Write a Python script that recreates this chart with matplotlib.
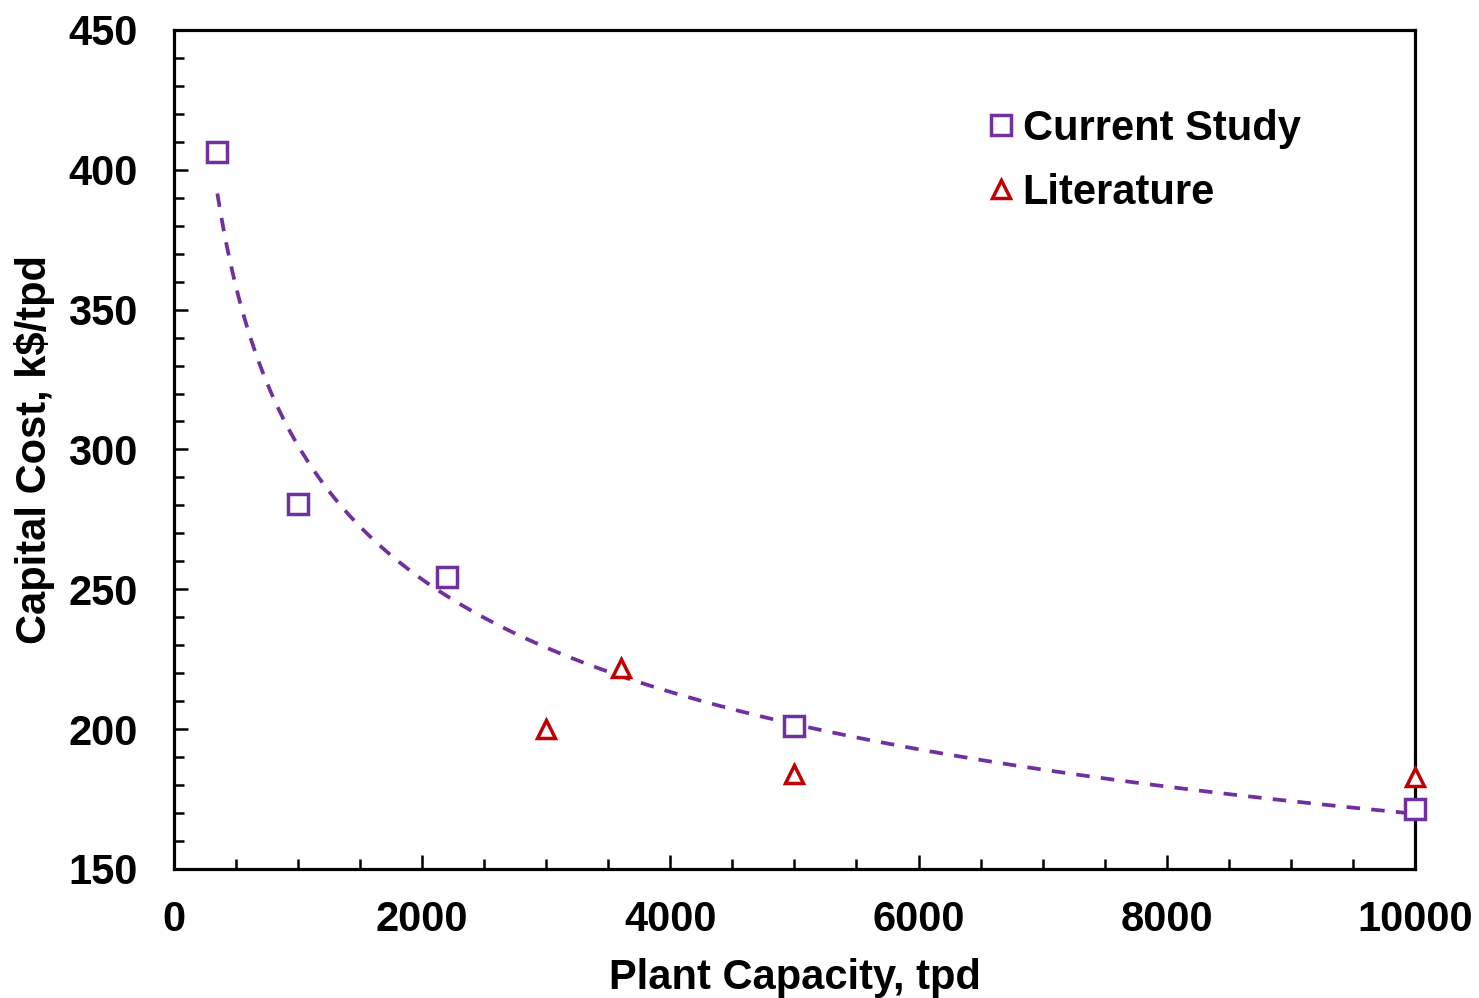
import numpy as np
import matplotlib
matplotlib.use("Agg")
import matplotlib.pyplot as plt
from matplotlib.ticker import MultipleLocator

plt.rcParams['font.family'] = ['Liberation Sans', 'DejaVu Sans']
plt.rcParams['font.weight'] = 'bold'

# Data
study_x = [350, 1000, 2200, 5000, 10000]
study_y = [406.5, 280.5, 254.5, 201, 171.5]
lit_x = [3000, 3600, 5000, 10000]
lit_y = [200, 222, 184, 183]

purple = '#7030A0'
red = '#C00000'

fig = plt.figure(figsize=(14.79, 9.98), dpi=100)
ax = fig.add_axes([0.1176, 0.1293, 0.8391, 0.8407])

# Power trendline fitted to the current study points
b, loga = np.polyfit(np.log(study_x), np.log(study_y), 1)
xs = np.linspace(min(study_x), max(study_x), 400)
ax.plot(xs, np.exp(loga) * xs ** b, linestyle=(0, (3.6, 3.0)), color=purple, lw=2.7, zorder=2)

ax.plot(study_x, study_y, linestyle='none', marker='s', markersize=14.5, mfc='white',
        mec=purple, mew=2.5, label='Current Study', zorder=4, clip_on=False)
ax.plot(lit_x, lit_y, linestyle='none', marker='^', markersize=13, mfc='white',
        mec=red, mew=2.5, label='Literature', zorder=3, clip_on=False)

ax.set_xlim(0, 10000)
ax.set_ylim(150, 450)
ax.xaxis.set_major_locator(MultipleLocator(2000))
ax.xaxis.set_minor_locator(MultipleLocator(500))
ax.yaxis.set_major_locator(MultipleLocator(50))
ax.yaxis.set_minor_locator(MultipleLocator(10))
ax.tick_params(which='both', direction='in', top=False, right=False, labelsize=30, width=1.8)
ax.tick_params(axis='x', which='both', pad=22)
ax.tick_params(axis='y', which='both', pad=26)
ax.tick_params(which='major', length=10)
ax.tick_params(which='minor', length=7)
for lab in ax.get_xticklabels() + ax.get_yticklabels():
    lab.set_fontweight('bold')
for s in ax.spines.values():
    s.set_linewidth(2.3)

ax.set_xlabel('Plant Capacity, tpd', fontsize=30, fontweight='bold', labelpad=13)
ax.set_ylabel('Capital Cost, k$/tpd', fontsize=30, fontweight='bold', labelpad=10)

ax.legend(loc='upper left', bbox_to_anchor=(0.653, 0.906), frameon=False,
          handlelength=0.8, handletextpad=0.12, labelspacing=0.57, borderpad=0,
          borderaxespad=0, prop={'weight': 'bold', 'size': 30})

fig.savefig('out.png', dpi=100)
